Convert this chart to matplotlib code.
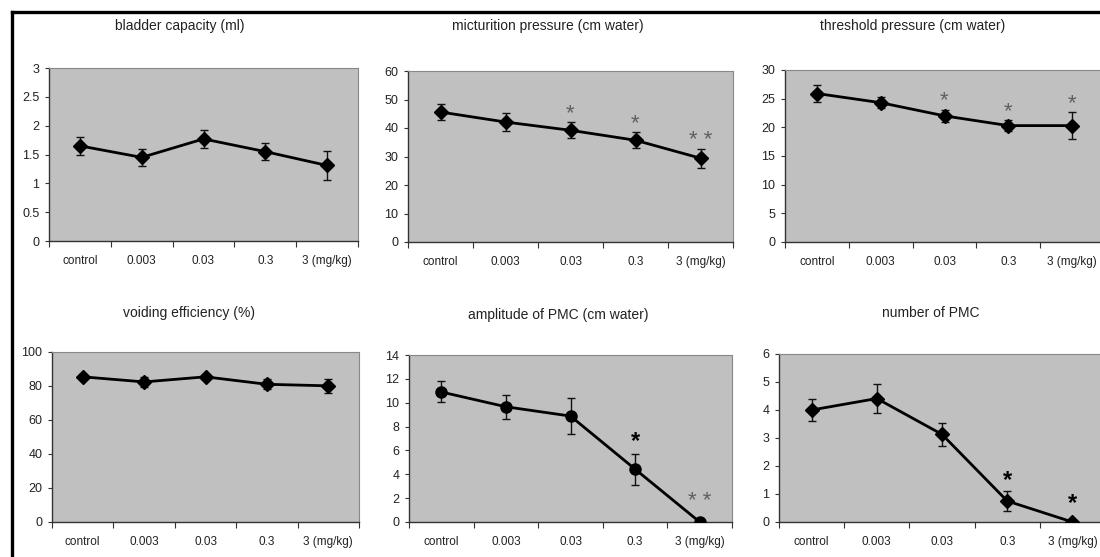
import matplotlib
matplotlib.use("Agg")
import matplotlib.pyplot as plt
from matplotlib.lines import Line2D

plt.rcParams['font.family'] = ['Liberation Sans', 'DejaVu Sans']

doses = ['control', '0.003', '0.03', '0.3', '3 (mg/kg)']

# bladder capacity (ml)
cap_mean = [1.65, 1.45, 1.77, 1.55, 1.31]
cap_err = [0.16, 0.15, 0.15, 0.15, 0.25]

# micturition pressure (cm water)
mp_mean = [45.6, 42.1, 39.2, 35.7, 29.4]
mp_err = [2.8, 3.2, 2.8, 2.8, 3.3]
mp_star = ['', '', '*', '*', '* *']

# threshold pressure (cm water)
tp_mean = [25.9, 24.3, 22.0, 20.3, 20.3]
tp_err = [1.4, 1.0, 1.1, 1.0, 2.3]
tp_star = ['', '', '*', '*', '*']

# voiding efficiency (%)
ve_mean = [85.4, 82.4, 85.4, 81.0, 80.1]
ve_err = [1.5, 3.0, 1.5, 3.0, 4.0]

# amplitude of PMC (cm water)
amp_mean = [10.9, 9.66, 8.88, 4.43, 0.0]
amp_err = [0.88, 1.0, 1.5, 1.3, 0.0]
amp_star = ['', '', '', '*', '* *']

# number of PMC
num_mean = [4.0, 4.41, 3.13, 0.75, 0.0]
num_err = [0.39, 0.52, 0.42, 0.37, 0.0]
num_star = ['', '', '', '*', '*']

W, H = 1100, 557
fig = plt.figure(figsize=(11, 5.57), dpi=100)
fig.patch.set_facecolor('white')

def px_rect(x0, y0, x1, y1):
    return [x0 / W, 1 - y1 / H, (x1 - x0) / W, (y1 - y0) / H]

panels = [
    # title, mean, err, stars, ymax, ystep, marker, rect(px), title pos, star style
    ('bladder capacity (ml)', cap_mean, cap_err, None, 3, 0.5, 'D',
     (49, 68, 358, 241), (180, 26), None),
    ('micturition pressure (cm water)', mp_mean, mp_err, mp_star, 60, 10, 'D',
     (408, 71, 733, 242), (548, 26), 'gray'),
    ('threshold pressure (cm water)', tp_mean, tp_err, tp_star, 30, 5, 'D',
     (785, 70, 1104, 242), (913, 26), 'gray'),
    ('voiding efficiency (%)', ve_mean, ve_err, None, 100, 20, 'D',
     (52, 352, 359, 522), (189, 313), None),
    ('amplitude of PMC (cm water)', amp_mean, amp_err, amp_star, 14, 2, 'o',
     (409, 355, 732, 522), (558, 315), 'mixed'),
    ('number of PMC', num_mean, num_err, num_star, 6, 1, 'D',
     (779, 354, 1105, 522), (931, 313), 'black'),
]

xpos = [i + 0.5 for i in range(len(doses))]

for title, mean, err, stars, ymax, ystep, mk, rect, tpos, sstyle in panels:
    ax = fig.add_axes(px_rect(*rect))
    ax.set_facecolor('#c0c0c0')
    ax.set_xlim(0, 5)
    ax.set_ylim(0, ymax)

    ax.errorbar(xpos, mean, yerr=err,
                fmt='-', color='black', lw=2.0, ecolor='#111111', elinewidth=1.0,
                capsize=3, capthick=1.0, marker=mk,
                markersize=7 if mk == 'D' else 8, markerfacecolor='black',
                markeredgecolor='black', zorder=3)

    if stars:
        for i, s in enumerate(stars):
            if not s:
                continue
            ytop = mean[i] + err[i]
            if sstyle == 'gray':
                ax.text(xpos[i], ytop + ymax * 0.05, s, ha='center', va='center',
                        fontsize=16, color='#606060')
            elif sstyle == 'mixed':
                if s == '*':
                    ax.text(xpos[i], ytop + ymax * 0.07, s, ha='center', va='center',
                            fontsize=17, color='black', fontweight='bold')
                else:
                    ax.text(xpos[i], ytop + ymax * 0.12, s, ha='center',
                            va='center', fontsize=16, color='#606060')
            else:
                ax.text(xpos[i], ytop + ymax * (0.11 if err[i] == 0 else 0.06), s,
                        ha='center', va='center', fontsize=17, color='black',
                        fontweight='bold')

    nt = int(round(ymax / ystep)) + 1
    ax.set_yticks([ystep * k for k in range(nt)])
    ax.set_yticklabels([('%g' % (ystep * k)) for k in range(nt)])
    ax.set_xticks(range(6))
    ax.set_xticklabels([''] * 6)
    ax.set_xticks(xpos, minor=True)
    ax.set_xticklabels(doses, minor=True)
    ax.tick_params(axis='x', which='major', direction='out', length=4,
                   color='#333333', width=0.8)
    ax.tick_params(axis='x', which='minor', length=0, pad=10,
                   labelsize=8.5, labelcolor='#222222')
    ax.tick_params(axis='y', direction='out', length=3, width=0.8,
                   color='#333333', labelsize=9, labelcolor='#222222', pad=4)
    for side in ['left', 'bottom']:
        ax.spines[side].set_color('#333333')
        ax.spines[side].set_linewidth(1.0)
    for side in ['top', 'right']:
        ax.spines[side].set_color('#888888')
        ax.spines[side].set_linewidth(0.8)

    fig.text(tpos[0] / W, 1 - tpos[1] / H, title, ha='center', va='center',
             fontsize=10, color='#222222')

# frame around the figure panel (left and top sides visible)
fig.add_artist(Line2D([12 / W, 12 / W], [0, 1 - 12 / H], transform=fig.transFigure,
                      color='black', lw=2.4))
fig.add_artist(Line2D([12 / W, 1], [1 - 12 / H, 1 - 12 / H], transform=fig.transFigure,
                      color='black', lw=2.4))

fig.savefig('out.png', dpi=100, facecolor='white')
